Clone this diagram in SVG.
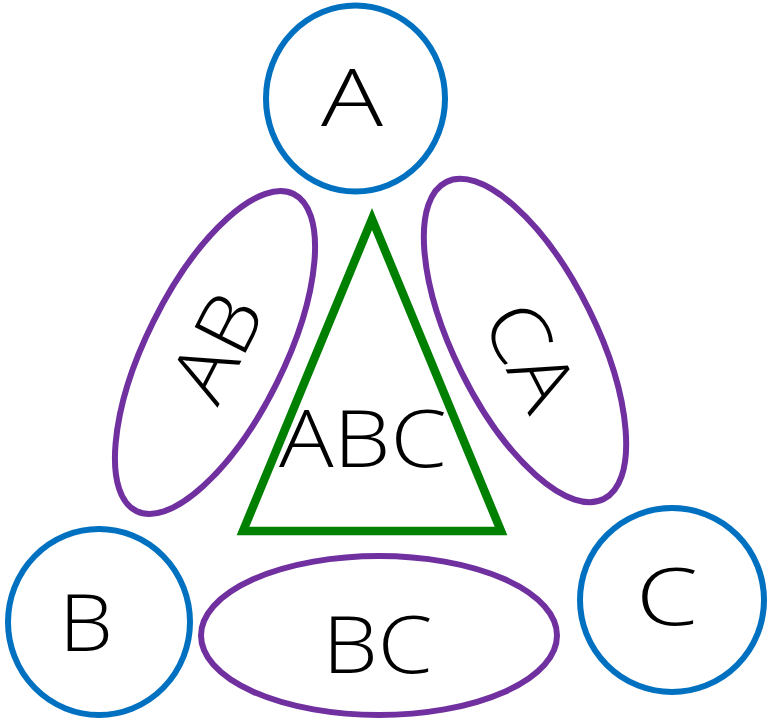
<svg xmlns="http://www.w3.org/2000/svg" width="770" height="721" viewBox="0 0 770 721">
<style>
.single{fill:none;stroke:#0070C0;stroke-width:6}
.pair{fill:none;stroke:#7030A0;stroke-width:6}
.triple{fill:none;stroke:#008000;stroke-width:8.5;stroke-linejoin:miter}
.lbl{font-family:"Open Sans","Noto Sans","Liberation Sans",sans-serif;font-size:80px;font-weight:300;fill:#000;text-anchor:middle}
</style>
<rect width="770" height="721" fill="#fff"/>
<g id="nodeA">
<ellipse class="single" cx="355.5" cy="98.5" rx="89.5" ry="93"/>
<text class="lbl" x="352" y="126" textLength="62" lengthAdjust="spacingAndGlyphs">A</text>
</g>
<g id="nodeB">
<ellipse class="single" cx="99" cy="622" rx="91" ry="93"/>
<text class="lbl" x="86" y="651" textLength="54" lengthAdjust="spacingAndGlyphs">B</text>
</g>
<g id="nodeC">
<ellipse class="single" cx="672" cy="600" rx="92" ry="92"/>
<text class="lbl" x="667" y="625" textLength="62" lengthAdjust="spacingAndGlyphs">C</text>
</g>
<g id="nodeAB">
<ellipse class="pair" cx="0" cy="0" rx="177" ry="69" transform="translate(215 352.5) rotate(-63.6)"/>
<text class="lbl" x="0" y="28" textLength="108" lengthAdjust="spacingAndGlyphs" transform="translate(217 347) rotate(-63)">AB</text>
</g>
<g id="nodeCA">
<ellipse class="pair" cx="0" cy="0" rx="177" ry="71" transform="translate(525 340.5) rotate(63.6)"/>
<text class="lbl" x="0" y="28" textLength="108" lengthAdjust="spacingAndGlyphs" transform="translate(530 356) rotate(63)">CA</text>
</g>
<g id="nodeBC">
<ellipse class="pair" cx="379" cy="635.5" rx="178" ry="79.5"/>
<text class="lbl" x="377.5" y="673" textLength="110" lengthAdjust="spacingAndGlyphs">BC</text>
</g>
<g id="nodeABC">
<polygon class="triple" points="372,219 243,531 501,531"/>
<text class="lbl" x="363" y="467" textLength="168" lengthAdjust="spacingAndGlyphs">ABC</text>
</g>
<g id="connectors"></g>
</svg>
